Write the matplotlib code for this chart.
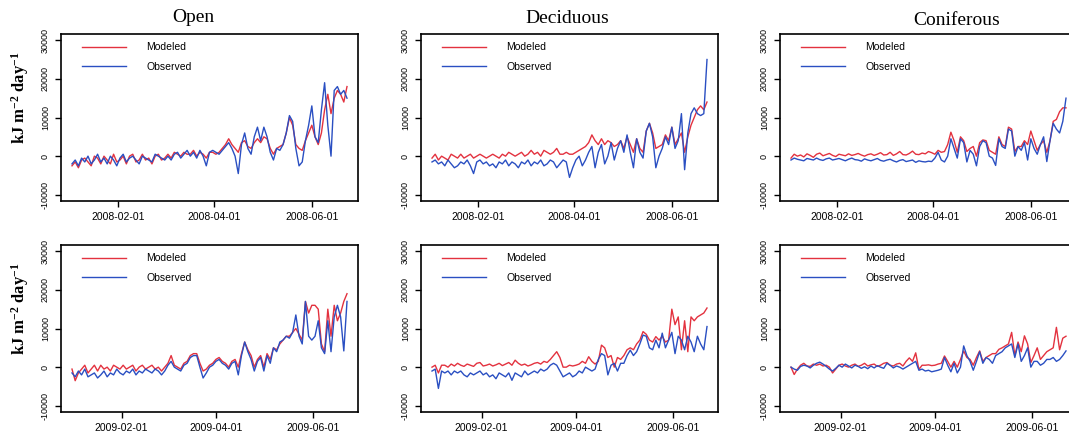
import numpy as np
import pandas as pd
import matplotlib
matplotlib.use('Agg')
import matplotlib.pyplot as plt
import matplotlib.dates as mdates

plt.rcParams['font.family'] = ['Liberation Sans', 'DejaVu Sans']
plt.rcParams['mathtext.fontset'] = 'custom'
plt.rcParams['mathtext.rm'] = 'Liberation Serif:bold'
plt.rcParams['mathtext.bf'] = 'Liberation Serif:bold'
plt.rcParams['mathtext.default'] = 'bf'

# every second day, values in thousands of kJ m-2 day-1
dates_2008 = pd.date_range('2008-01-03', periods=87, freq='2D')
dates_2009 = pd.date_range('2009-01-01', periods=87, freq='2D')

open_2008_obs = [-2, -1, -2.5, -0.5, -1.5, 0, -2, -1, 0.5, -1.5, -0.5, -2, 0, -1, -2.5,
                 -0.5, 0.5, -1.5, -0.5, 0, -1, -2, 0, -0.5, -1, -1.5, 0.5, 0, -0.5, -1,
                 0, -1, 0.5, 1, -0.5, 0.5, 1.5, 0, 1, -0.5, 1.5, 0, -2.5, 1, 1.5,
                 1, 0.5, 1.5, 2.5, 3.5, 2, 0, -4.5, 3, 6, 2, 0.5, 5, 7.5, 4,
                 7.5, 5, 1, -1, 2, 1.5, 3, 6, 10.5, 9, 2, -2.5, -1.5, 4, 8,
                 13, 5, 3.5, 12, 19, 8, 0, 17, 18, 16, 17, 15]
open_2008_mod = [-2.5, -1.5, -3, -1, -0.5, -1.5, -2.5, 0, -0.5, -2, 0, -1, -2, 0.5, -1.5,
                 -1, 0, -2, 0, 0.5, -1.5, -1, 0.5, -1, -0.5, -2, 0, 0.5, -1, -0.5,
                 0.5, -0.5, 1, 0.5, 0, 1, 0.5, 0.5, 1.5, 0, 1, 0.5, -0.5, 1, 1,
                 0.5, 1, 2, 3, 4.5, 3, 2, 1, 3.5, 4, 2.5, 2, 3.5, 4.5, 3.5,
                 5, 4.5, 2, 0.5, 2, 2.5, 3, 6, 10, 8, 3, 2, 1.5, 4, 6,
                 8, 5, 3, 6, 12, 16, 11, 15, 17, 16, 14, 18]

decid_2008_obs = [-1.5, -1, -2, -1.5, -2.5, -1, -2, -3, -2.5, -1.5, -2, -1, -2.5, -4.5, -1.5,
                  -1, -2, -1.5, -2.5, -2, -3, -1.5, -2, -1, -2.5, -1.5, -2, -3, -1.5, -2,
                  -1, -2.5, -1.5, -2, -1, -2.5, -2, -1, -1.5, -3, -2, -1, -1.5, -5.5, -3,
                  -1, 0, -2.5, -1, 1, 2.5, -3, 1, 3, -2, 0, 3.5, -1, 2, 4,
                  1, 5.5, 1, -3, 4.5, 1, -0.5, 6.5, 8.5, 5, -3, 0, 2, 5, 3,
                  7.5, 2, 4, 11, -3.5, 6, 11, 12.5, 11, 10.5, 11, 25]
decid_2008_mod = [-0.5, 0.5, -1, 0, -0.5, -1, 0.5, 0, -0.5, 0.5, -0.5, 0, 0.5, -0.5, 0,
                  0.5, 0, -0.5, 0, 0.5, 0, -0.5, 0.5, 0, 1, 0.5, 0, 0.5, 1, 0,
                  0.5, 1.5, 0.5, 1, 0, 1.5, 1, 0.5, 1, 2, 0.5, 0.5, 1, 0.5, 0.5,
                  1, 1.5, 2, 2.5, 3.5, 5.5, 4, 3, 4.5, 3, 4, 3.5, 2.5, 3, 4,
                  2, 5, 3, 1, 4.5, 2, 1, 6.5, 8.5, 6, 2, 2.5, 3, 5.5, 4,
                  7.5, 3, 4.5, 6, 1, 5, 8, 10, 12, 13, 12, 14]

conif_2008_obs = [-1, -0.5, -0.8, -1, -1.2, -0.6, -0.8, -1, -0.5, -0.9, -1.1, -0.7, -0.5, -1, -0.8,
                  -0.6, -0.9, -1.2, -0.8, -0.5, -0.9, -1, -1.3, -0.7, -1, -1.2, -0.9, -0.6, -1.1, -1.3,
                  -1, -0.8, -1.2, -1.5, -1.1, -0.9, -1.4, -1.2, -1, -1.6, -1.2, -1.4, -1.5, -1.3, -1.4,
                  -0.5, 1, -1, -1.5, 0, 4.5, 2, -0.5, 4.5, 3.5, -1.5, 1.5, 0.5, -2.5, 2.5,
                  4, 3.5, 0, -0.5, -2.4, 4.5, 2.5, 2, 7, 6.5, 0, 2.5, 1.5, 3.5, -1,
                  4.5, 2, 0.5, 3, 5, -1.4, 4, 8.5, 7, 6, 9, 15]
conif_2008_mod = [-0.5, 0.5, 0, 0.3, -0.2, 0.6, 0.2, -0.3, 0.5, 0.8, 0.1, 0.4, 0.7, 0.2, -0.1,
                  0.5, 0.3, 0.1, 0.6, 0.2, 0.4, 0.7, 0.3, 0, 0.4, 0.6, 0.2, 0.5, 0.9, 0.3,
                  0.4, 1, 0.2, 0.6, 1.2, 0.4, 0.3, 0.7, 1.3, 0.5, 0.4, 0.8, 0.6, 1.2, 0.9,
                  0.5, 1.5, 1, 1.2, 3, 6.2, 4, 1, 5, 4, 1.2, 2, 2.5, 0, 3.5,
                  4.2, 4, 1.5, 1, 0.5, 5, 3, 2.5, 7.5, 7, 1.2, 2.5, 2.5, 4, 3,
                  6.5, 4, 1.5, 3, 4, 1, 4, 9, 9.5, 11.5, 12.5, 12.5]

open_2009_obs = [-1.5, -2.5, -1, -2, -0.5, -2.5, -2, -1.5, -2.8, -2, -1, -2.5, -1.5, -2, -0.5,
                 -1.5, -2, -1, -1.5, -0.5, -2, -1, -1.5, -0.5, -1, -1.5, -0.5, -1, -2, -1,
                 0.5, 1.5, 0, -0.5, -1, 0.5, 1, 2.5, 3, 3, 0, -2.8, -1.5, 0, 0.5,
                 1.5, 2, 1, 0.5, -0.5, 1, 1.5, -2, 3, 6.5, 4, 2, -1, 1.5, 2.5,
                 -1, 3, 1, 5, 4, 6.5, 7, 8, 7.5, 9, 13.5, 8, 6, 17, 8,
                 7, 8, 12, 5, 3.5, 12, 4, 13, 16, 13, 4.2, 17]
open_2009_mod = [-0.5, -3.5, -1.5, -0.5, 0.5, -1.5, -0.5, 0.5, -1, 0.5, -0.5, 0, -1, 0.5, 0,
                 -0.5, 0.5, -0.5, 0, 0.5, -1, 0, 0.5, -0.5, 0, 0.5, -0.5, 0, -1, 0,
                 1, 3, 0.5, 0, -0.5, 1, 1.5, 3, 3.5, 3.5, 1, -1, -0.5, 0.5, 1,
                 2, 2.5, 1.5, 1, 0, 1.5, 2, 0, 3.5, 6.5, 4.5, 3, 0, 2, 3,
                 0, 3.5, 2, 5, 4.5, 6, 7, 8, 8, 9, 10, 8.5, 7, 17, 14,
                 16, 16, 15, 6, 4, 15, 8, 16, 12, 14, 17, 19]

decid_2009_obs = [-1, -0.5, -5.5, -1, -1.5, -1, -2, -1, -1.5, -1, -2, -2.5, -1.5, -2, -1.5,
                  -1, -2, -1.5, -2.5, -2, -3, -1.5, -2, -2.5, -1.5, -3.4, -1.5, -2, -2.5, -1,
                  -2, -1.5, -1, -1.5, -0.5, -1, -0.5, 0.5, 1, 0.5, -1, -2.5, -2, -1.5, -2.5,
                  -2, -1, -1.5, 0, -0.5, -1, -0.5, 2, 3.5, 3, -2, 0.5, 1, -1, 1,
                  1, 3, 4.4, 3, 4, 6, 8.3, 8, 5, 4.5, 7, 5, 8.8, 5, 7,
                  9, 3.5, 8, 7, 4.5, 8, 6.5, 4, 8, 6, 4.5, 10.5]
decid_2009_mod = [0, 0.5, -1.5, 0.5, 0.5, 0, 0.8, 0.3, 1, 0.5, 0.2, 0.8, 0.5, 0.2, 1,
                  1.2, 0.3, 0.5, 0.8, 0.3, 0.6, 1, 0.4, 0.8, 1.2, 0.5, 1.8, 1, 0.5, 0.8,
                  0.3, 0.6, 1, 1.2, 0.8, 1.5, 1.2, 2, 3, 4, 2.5, 0, 0, 0.5, 0.3,
                  0.5, 0.8, 1.5, 1, 2.7, 1.5, 0.8, 1.5, 5.7, 5, 2.5, 3, 0, 2.5, 2,
                  3, 4.5, 5, 4.5, 6, 7, 9.2, 8.5, 7, 6.5, 7.9, 7, 8, 6.5, 7,
                  15, 11, 13, 4.5, 12, 4, 13, 12, 13, 13.5, 14, 15.3]

conif_2009_obs = [0, -0.5, -0.8, 0.2, 0.5, 0.3, -0.2, 0.5, 1, 1.3, 0.8, 0.2, -0.5, -1, -0.3,
                  0.5, 0, 0.8, 0.3, -0.2, 0.5, 0.2, -0.3, 0.1, -0.4, 0.3, -0.2, 0.4, 0, -0.3,
                  1, 0.5, -0.2, 0.3, 0, -0.5, 0, 0.5, 1, 1.5, -0.8, -0.5, -1, -0.8, -1.2,
                  -1, -0.8, -0.5, 2.5, 0.5, -1.2, 1, -1.5, 0, 5.5, 3, 1.5, -0.8, 1.5, 4,
                  1, 2.5, 2, 1, 3, 3.5, 4, 5, 5.5, 6, 2.5, 6, 1.5, 3, 5,
                  0, 1.5, 1.5, 0.5, 1, 2, 2, 2.5, 1.5, 2, 3, 4.2]
conif_2009_mod = [0, -1.9, -0.5, 0.5, 1, 0.3, 0.2, 0.8, 0.5, 0.8, 0.3, 0.5, 0, -1.5, -0.5,
                  0.5, 0.8, 0.3, 0, 0.5, 0.8, 0.2, 0.5, 1, 0.3, 0.6, 0.8, 0.2, 0.5, 1,
                  1.2, 0.5, 0.3, 0.8, 1, 0.3, 1.5, 2.4, 1.5, 3.7, -0.6, 0.5, 0.5, 0.6, 0.4,
                  0.5, 0.8, 1, 2.9, 1.5, 0, 1.5, 0, 2, 4.2, 2.5, 2, 0.5, 2.5, 4.2,
                  1.5, 2.5, 3, 3.5, 3.5, 4.6, 5, 5.5, 6, 9, 3, 6.5, 4, 8.1, 6,
                  1.2, 3, 5, 2, 3, 4, 4.5, 5, 10.3, 4.5, 7.5, 8]

titles = ['Open', 'Deciduous', 'Coniferous']
title_x = [0.181, 0.531, 0.895]
title_y = [0.960, 0.958, 0.953]
yticks = [-10000, 0, 10000, 20000, 30000]
ytick_labels = ['-10000', '0', '10000', '20000', '30000']
tick_months = ['02-01', '04-01', '06-01']

rows = [
    (dates_2008, [(open_2008_mod, open_2008_obs), (decid_2008_mod, decid_2008_obs),
                  (conif_2008_mod, conif_2008_obs)]),
    (dates_2009, [(open_2009_mod, open_2009_obs), (decid_2009_mod, decid_2009_obs),
                  (conif_2009_mod, conif_2009_obs)]),
]

red = '#e3323f'
blue = '#2a4fc2'

fig = plt.figure(figsize=(10.69, 4.41), dpi=100)
lefts = [61 / 1069, 421 / 1069, 780 / 1069]
bottoms = [1 - 201 / 441, 1 - 412 / 441]
w = 297 / 1069
h = 167 / 441

for r, (dates, series) in enumerate(rows):
    pad = (dates[-1] - dates[0]) * 0.04
    year = dates[0].year
    for c, (mod, obs) in enumerate(series):
        ax = fig.add_axes([lefts[c], bottoms[r], w, h])
        ax.plot(dates, np.array(mod) * 1000, color=red, lw=1.0, label='Modeled')
        ax.plot(dates, np.array(obs) * 1000, color=blue, lw=1.0, label='Observed')
        ax.set_xlim(dates[0] - pad, dates[-1] + pad)
        ax.set_ylim(-11600, 31600)
        ax.set_xticks([pd.Timestamp(f'{year}-{m}') for m in tick_months])
        ax.xaxis.set_major_formatter(mdates.DateFormatter('%Y-%m-%d'))
        ax.set_yticks(yticks)
        ax.set_yticklabels(ytick_labels, rotation=90, va='center', fontsize=6.5)
        ax.tick_params(axis='x', labelsize=7.5, length=4, pad=4, width=1)
        ax.tick_params(axis='y', length=4, pad=4, width=1)
        for s in ax.spines.values():
            s.set_linewidth(1.2)
        ax.legend(loc='upper left', bbox_to_anchor=(0.07, 0.95), frameon=False,
                  fontsize=7.5, handlelength=4.2, handletextpad=2.0,
                  labelspacing=0.9, borderpad=0, borderaxespad=0)
        if c == 0:
            fig.text(0.019, bottoms[r] + h / 2 + 20 / 441,
                     'kJ m$^{-2}$ day$^{-1}$', rotation=90, ha='center', va='center',
                     fontsize=12, family='Liberation Serif', weight='bold')
        if r == 0:
            fig.text(title_x[c], title_y[c], titles[c], ha='center', va='center',
                     fontsize=14, family='Liberation Serif')

fig.savefig('out.png', dpi=100)
